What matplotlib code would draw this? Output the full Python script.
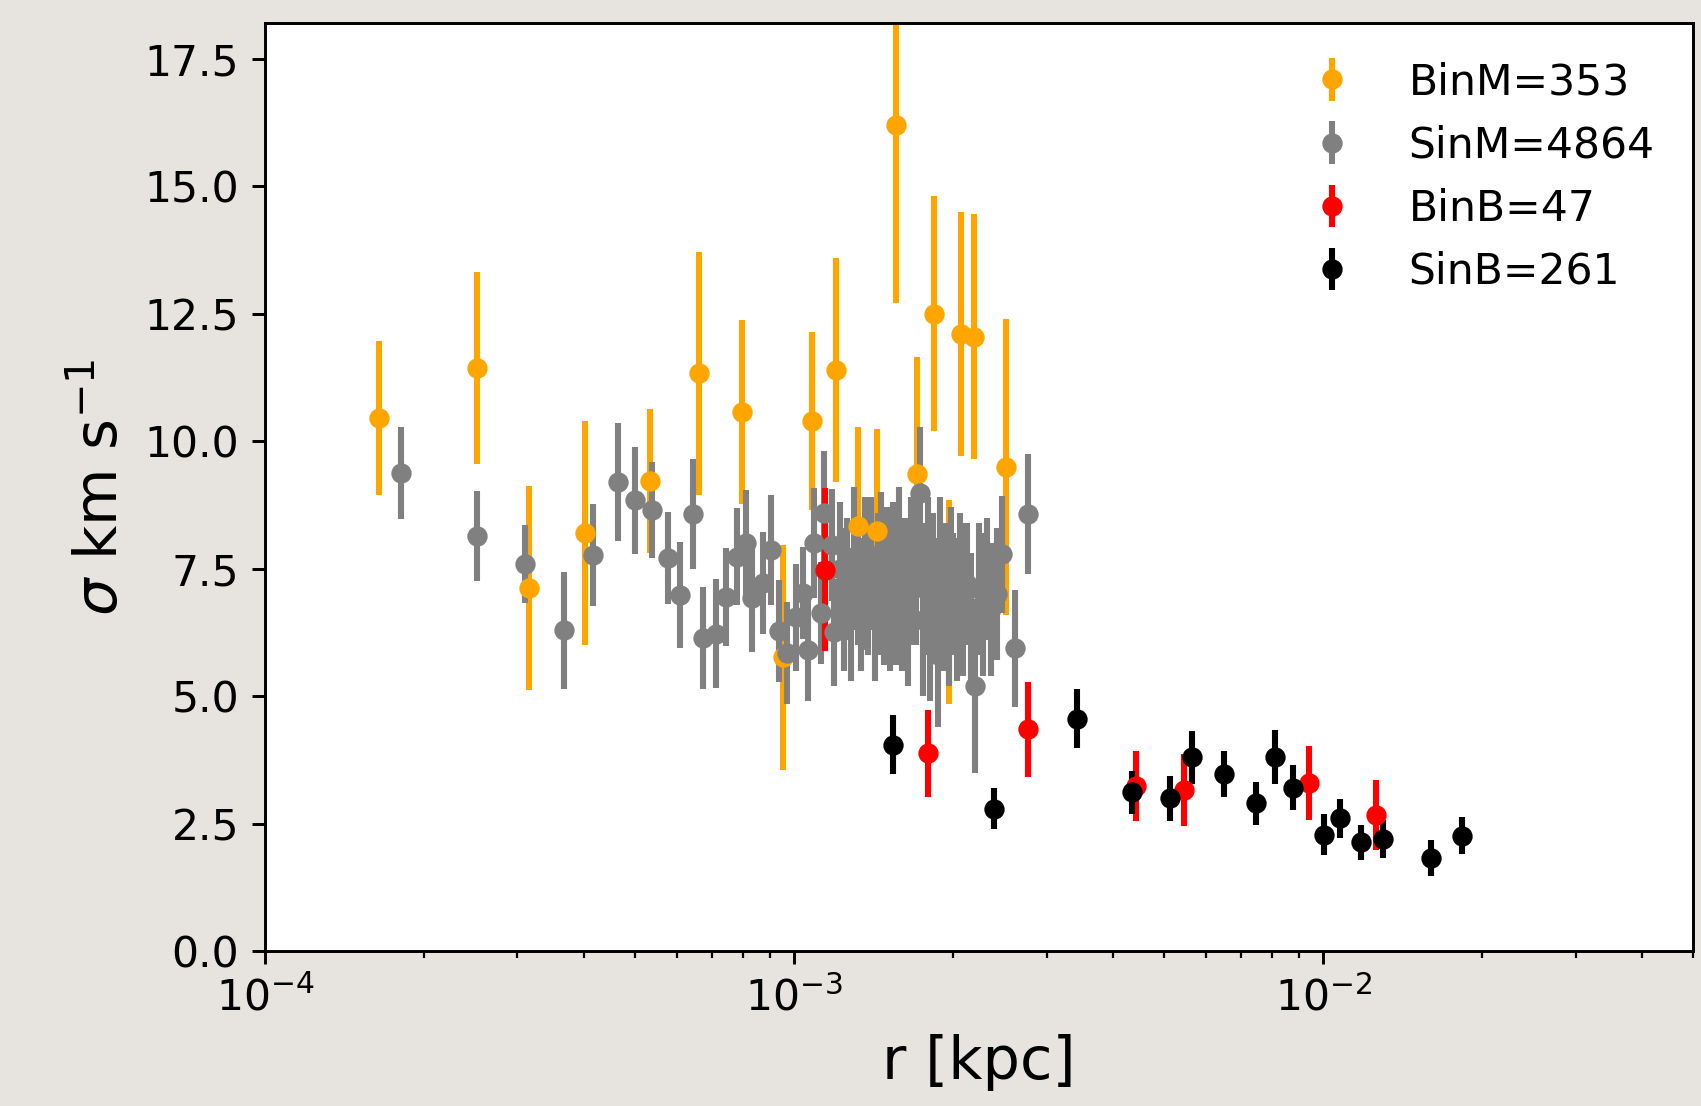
import matplotlib
matplotlib.use('Agg')
import matplotlib.pyplot as plt

# BinM (orange)
binm_r = [1.64e-4, 2.52e-4, 3.16e-4, 4.03e-4, 5.35e-4, 6.61e-4, 7.96e-4, 9.53e-4,
          1.08e-3, 1.20e-3, 1.318e-3, 1.436e-3, 1.556e-3, 1.71e-3, 1.837e-3,
          1.963e-3, 2.066e-3, 2.19e-3, 2.51e-3]
binm_s = [10.45, 11.43, 7.12, 8.2, 9.22, 11.33, 10.57, 5.76,
          10.4, 11.4, 8.33, 8.24, 16.2, 9.35, 12.5,
          6.85, 12.1, 12.05, 9.5]
binm_e = [1.51, 1.88, 2.0, 2.2, 1.42, 2.38, 1.8, 2.2,
          1.75, 2.2, 1.95, 2.0, 3.5, 2.3, 2.3,
          2.0, 2.4, 2.4, 2.9]

# SinM (gray)
sinm_r = [1.81e-4, 2.52e-4, 3.10e-4, 3.68e-4, 4.16e-4, 4.64e-4, 5.01e-4, 5.38e-4,
          5.77e-4, 6.08e-4, 6.44e-4, 6.74e-4, 7.11e-4, 7.43e-4, 7.79e-4, 8.11e-4,
          8.32e-4, 8.73e-4, 9.04e-4, 9.37e-4, 9.70e-4, 1.009e-3, 1.04e-3, 1.064e-3,
          1.092e-3, 1.125e-3, 1.14e-3, 1.18e-3, 1.19e-3,
          1.22e-3, 1.24e-3, 1.26e-3, 1.28e-3, 1.30e-3, 1.32e-3, 1.34e-3, 1.36e-3,
          1.38e-3, 1.40e-3, 1.42e-3, 1.44e-3, 1.46e-3, 1.48e-3, 1.50e-3, 1.52e-3,
          1.54e-3, 1.56e-3, 1.58e-3, 1.60e-3, 1.62e-3, 1.64e-3, 1.66e-3, 1.68e-3,
          1.70e-3, 1.73e-3, 1.75e-3, 1.77e-3, 1.79e-3, 1.81e-3, 1.83e-3, 1.85e-3,
          1.87e-3, 1.89e-3, 1.91e-3, 1.93e-3, 1.96e-3, 1.98e-3, 2.00e-3, 2.03e-3,
          2.06e-3, 2.09e-3, 2.12e-3, 2.16e-3, 2.20e-3, 2.24e-3, 2.28e-3, 2.32e-3,
          2.36e-3, 2.42e-3, 2.47e-3, 2.62e-3, 2.77e-3]
sinm_s = [9.37, 8.14, 7.59, 6.29, 7.76, 9.2, 8.84, 8.65,
          7.71, 6.98, 8.57, 6.14, 6.22, 6.94, 7.73, 8.0,
          6.92, 7.21, 7.86, 6.27, 5.84, 6.55, 7.02, 5.9,
          8.0, 6.63, 8.6, 7.96, 6.25,
          7.5, 6.9, 7.3, 6.6, 7.7, 7.2, 6.8, 7.4,
          7.0, 7.6, 6.5, 7.2, 7.8, 6.9, 7.3, 6.7,
          7.5, 7.1, 7.9, 6.8, 7.3, 6.6, 7.6, 7.2,
          7.4, 8.98, 6.5, 7.1, 7.7, 6.3, 7.3, 6.9,
          5.8, 7.5, 6.8, 7.2, 6.6, 7.4, 7.0, 6.7,
          7.3, 6.9, 7.2, 6.5, 5.2, 7.1, 6.8, 7.3,
          6.7, 7.0, 7.78, 5.94, 8.57]
sinm_e = [0.9, 0.88, 0.76, 1.15, 1.0, 1.16, 1.05, 0.95,
          0.9, 1.04, 1.08, 1.0, 1.07, 0.96, 0.95, 1.05,
          1.05, 1.0, 1.08, 1.0, 1.0, 1.05, 0.9, 1.0,
          1.08, 1.0, 1.2, 1.1, 1.05,
          1.3, 1.4, 1.2, 1.3, 1.4, 1.2, 1.3, 1.5,
          1.2, 1.3, 1.2, 1.4, 1.2, 1.3, 1.4, 1.2,
          1.3, 1.5, 1.2, 1.3, 1.2, 1.4, 1.3, 1.2,
          1.4, 1.3, 1.5, 1.3, 1.2, 1.4, 1.3, 1.2,
          1.4, 1.4, 1.3, 1.2, 1.4, 1.3, 1.2, 1.4,
          1.3, 1.5, 1.2, 1.3, 1.7, 1.3, 1.4, 1.2,
          1.3, 1.3, 1.15, 1.15, 1.18]

# BinB (red)
binb_r = [1.145e-3, 1.794e-3, 2.77e-3, 4.43e-3, 5.46e-3, 9.4e-3, 1.26e-2]
binb_s = [7.48, 3.88, 4.35, 3.24, 3.16, 3.3, 2.67]
binb_e = [1.6, 0.85, 0.93, 0.68, 0.7, 0.73, 0.68]

# SinB (black)
sinb_r = [1.54e-3, 2.39e-3, 3.43e-3, 4.35e-3, 5.13e-3, 5.64e-3, 6.5e-3, 7.46e-3,
          8.12e-3, 8.76e-3, 1.005e-2, 1.074e-2, 1.18e-2, 1.30e-2, 1.60e-2, 1.83e-2]
sinb_s = [4.05, 2.79, 4.56, 3.11, 3.0, 3.8, 3.47, 2.9,
          3.8, 3.2, 2.28, 2.6, 2.13, 2.2, 1.83, 2.26]
sinb_e = [0.58, 0.4, 0.58, 0.42, 0.44, 0.52, 0.45, 0.42,
          0.53, 0.44, 0.4, 0.38, 0.35, 0.37, 0.35, 0.36]

fig = plt.figure(figsize=(1701 / 266, 1106 / 266), dpi=266, facecolor='#e7e4df')
ax = fig.add_axes([0.1558, 0.1401, 0.8395, 0.8391])

ms = 4.5
lw = 1.65
ax.errorbar(binm_r, binm_s, yerr=binm_e, fmt='o', color='orange', ms=ms, elinewidth=lw, label='BinM=353')
ax.errorbar(sinm_r, sinm_s, yerr=sinm_e, fmt='o', color='gray', ms=ms, elinewidth=lw, label='SinM=4864')
ax.errorbar(binb_r, binb_s, yerr=binb_e, fmt='o', color='red', ms=ms, elinewidth=lw, label='BinB=47')
ax.errorbar(sinb_r, sinb_s, yerr=sinb_e, fmt='o', color='black', ms=ms, elinewidth=lw, label='SinB=261')

ax.set_xscale('log')
ax.set_xlim(1e-4, 5e-2)
ax.set_ylim(0, 18.2)
ax.tick_params(labelsize=11.5)
ax.set_xlabel('r [kpc]', fontsize=16)
ax.set_ylabel(r'$\sigma$ km s$^{-1}$', fontsize=16)
ax.legend(loc='upper right', frameon=False, fontsize=11.5)

fig.savefig('out.png', dpi=266, facecolor=fig.get_facecolor())
